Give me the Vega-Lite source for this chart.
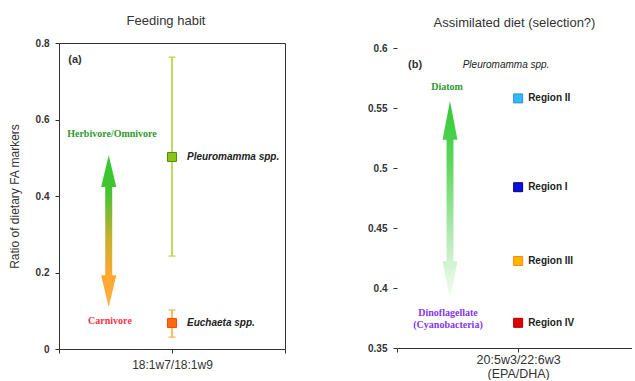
{
  "$schema": "https://vega.github.io/schema/vega-lite/v6.json",
  "background": "white",
  "padding": {"left": 7, "top": 14, "right": 0, "bottom": 0},
  "spacing": 81,
  "config": {
    "font": "Liberation Sans",
    "view": {"stroke": "#333", "strokeWidth": 1},
    "axis": {
      "grid": false,
      "domainColor": "#333",
      "tickColor": "#333",
      "tickSize": 4,
      "labelColor": "#333",
      "labelFont": "Liberation Sans",
      "labelFontWeight": "bold",
      "labelFontSize": 10,
      "labelPadding": 6,
      "titleColor": "#333",
      "titleFont": "Liberation Sans",
      "titleFontWeight": "normal"
    },
    "title": {"font": "Liberation Sans", "fontSize": 13, "fontWeight": "normal", "color": "#333"}
  },
  "resolve": {"scale": {"color": "independent", "fill": "independent", "stroke": "independent"}},
  "hconcat": [
    {
      "width": 226,
      "height": 306,
      "title": {"text": "Feeding habit", "offset": 10, "dx": -6},
      "layer": [
        {
          "data": {"values": [{"x": 0.44, "y": 0.308}]},
          "mark": {
            "type": "point",
            "shape": "M0,-1L0.1,-0.58L0.046,-0.58L0.046,0.58L0.1,0.58L0,1L-0.1,0.58L-0.046,0.58L-0.046,-0.58L-0.1,-0.58Z",
            "size": 23104,
            "filled": true,
            "opacity": 1,
            "strokeWidth": 0,
            "fill": {
              "gradient": "linear", "x1": 0, "y1": 0, "x2": 0, "y2": 1,
              "stops": [
                {"offset": 0, "color": "#2ecc2e"},
                {"offset": 0.25, "color": "#48c232"},
                {"offset": 0.55, "color": "#c8b030"},
                {"offset": 0.8, "color": "#ffa830"},
                {"offset": 1, "color": "#ffb040"}
              ]
            }
          },
          "encoding": {
            "x": {"field": "x", "type": "quantitative", "scale": {"domain": [0, 2], "nice": false},
              "axis": {"title": null, "values": [0, 1, 2], "labelExpr": "datum.value == 1 ? '18:1w7/18:1w9' : ''", "labelFontWeight": "normal", "labelFontSize": 12, "labelPadding": 6}},
            "y": {"field": "y", "type": "quantitative", "scale": {"domain": [0, 0.8], "nice": false},
              "axis": {"title": "Ratio of dietary FA markers", "titleFontSize": 12, "titlePadding": 14, "values": [0, 0.2, 0.4, 0.6, 0.8], "format": "~g"}}
          }
        },
        {
          "data": {"values": [
            {"species": "Pleuromamma spp.", "x": 1, "y": 0.502, "lo": 0.243, "hi": 0.763},
            {"species": "Euchaeta spp.", "x": 1, "y": 0.068, "lo": 0.031, "hi": 0.102}
          ]},
          "layer": [
            {
              "mark": {"type": "rule", "strokeWidth": 1.5},
              "encoding": {
                "x": {"field": "x", "type": "quantitative", "axis": {"title": null}},
                "y": {"field": "lo", "type": "quantitative", "axis": {"title": "Ratio of dietary FA markers"}},
                "y2": {"field": "hi"},
                "color": {"field": "species", "type": "nominal", "legend": null,
                  "scale": {"domain": ["Pleuromamma spp.", "Euchaeta spp."], "range": ["#a8d02c", "#ffa830"]}}
              }
            },
            {
              "mark": {"type": "tick", "orient": "horizontal", "size": 7, "thickness": 1.5},
              "encoding": {
                "x": {"field": "x", "type": "quantitative", "axis": {"title": null}},
                "y": {"field": "lo", "type": "quantitative", "axis": {"title": "Ratio of dietary FA markers"}},
                "color": {"field": "species", "type": "nominal", "legend": null}
              }
            },
            {
              "mark": {"type": "tick", "orient": "horizontal", "size": 7, "thickness": 1.5},
              "encoding": {
                "x": {"field": "x", "type": "quantitative", "axis": {"title": null}},
                "y": {"field": "hi", "type": "quantitative", "axis": {"title": "Ratio of dietary FA markers"}},
                "color": {"field": "species", "type": "nominal", "legend": null}
              }
            },
            {
              "mark": {"type": "point", "shape": "square", "size": 81, "filled": true, "opacity": 1, "strokeWidth": 1},
              "encoding": {
                "x": {"field": "x", "type": "quantitative", "axis": {"title": null}},
                "y": {"field": "y", "type": "quantitative", "axis": {"title": "Ratio of dietary FA markers"}},
                "fill": {"field": "species", "type": "nominal", "legend": null,
                  "scale": {"domain": ["Pleuromamma spp.", "Euchaeta spp."], "range": ["#8cc21a", "#ff6a10"]}},
                "stroke": {"field": "species", "type": "nominal", "legend": null,
                  "scale": {"domain": ["Pleuromamma spp.", "Euchaeta spp."], "range": ["#4f8f00", "#ff4a00"]}}
              }
            },
            {
              "mark": {"type": "text", "align": "left", "baseline": "middle", "dx": 15, "fontSize": 10, "fontStyle": "italic", "fontWeight": "bold", "color": "#222"},
              "encoding": {
                "x": {"field": "x", "type": "quantitative", "axis": {"title": null}},
                "y": {"field": "y", "type": "quantitative", "axis": {"title": "Ratio of dietary FA markers"}},
                "text": {"field": "species"}
              }
            }
          ]
        },
        {
          "data": {"values": [{"label": "Herbivore/Omnivore", "x": 0.469, "y": 0.562}]},
          "mark": {"type": "text", "font": "Liberation Serif", "fontWeight": "bold", "fontSize": 10, "color": "#2f9a2f", "baseline": "middle"},
          "encoding": {
            "x": {"field": "x", "type": "quantitative", "axis": {"title": null}},
            "y": {"field": "y", "type": "quantitative", "axis": {"title": "Ratio of dietary FA markers"}},
            "text": {"field": "label"}
          }
        },
        {
          "data": {"values": [{"label": "Carnivore", "x": 0.451, "y": 0.073}]},
          "mark": {"type": "text", "font": "Liberation Serif", "fontWeight": "bold", "fontSize": 10, "color": "#ff3344", "baseline": "middle"},
          "encoding": {
            "x": {"field": "x", "type": "quantitative", "axis": {"title": null}},
            "y": {"field": "y", "type": "quantitative", "axis": {"title": "Ratio of dietary FA markers"}},
            "text": {"field": "label"}
          }
        },
        {
          "data": {"values": [{"label": "(a)", "x": 0.142, "y": 0.756}]},
          "mark": {"type": "text", "fontWeight": "bold", "fontSize": 11, "color": "#333", "baseline": "middle"},
          "encoding": {
            "x": {"field": "x", "type": "quantitative", "axis": {"title": null}},
            "y": {"field": "y", "type": "quantitative", "axis": {"title": "Ratio of dietary FA markers"}},
            "text": {"field": "label"}
          }
        }
      ]
    },
    {
      "width": 235,
      "height": 305,
      "view": {"stroke": null},
      "title": {"text": "Assimilated diet (selection?)", "offset": 13},
      "layer": [
        {
          "data": {"values": [{"x": 0.4375, "y": 0.4729}]},
          "mark": {
            "type": "point",
            "shape": "M0,-1L0.075,-0.61L0.035,-0.61L0.035,0.61L0.075,0.61L0,1L-0.075,0.61L-0.035,0.61L-0.035,-0.61L-0.075,-0.61Z",
            "size": 39601,
            "filled": true,
            "opacity": 1,
            "strokeWidth": 0,
            "fill": {
              "gradient": "linear", "x1": 0, "y1": 0, "x2": 0, "y2": 1,
              "stops": [
                {"offset": 0, "color": "#33c833"},
                {"offset": 0.3, "color": "#5cd65c"},
                {"offset": 0.7, "color": "#b8ecb8"},
                {"offset": 1, "color": "#f6fff6"}
              ]
            }
          },
          "encoding": {
            "x": {"field": "x", "type": "quantitative", "scale": {"domain": [0, 1.94], "nice": false},
              "axis": {"title": null, "values": [0, 1], "labelExpr": "datum.value == 1 ? ['20:5w3/22:6w3', '(EPA/DHA)'] : ''", "labelFontWeight": "normal", "labelFontSize": 12.5, "labelLineHeight": 14, "labelPadding": 1}},
            "y": {"field": "y", "type": "quantitative", "scale": {"domain": [0.35, 0.60417], "nice": false, "zero": false},
              "axis": {"title": null, "domain": false, "values": [0.35, 0.4, 0.45, 0.5, 0.55, 0.6], "format": "~g"}}
          }
        },
        {
          "mark": {"type": "rule", "color": "#333", "strokeWidth": 1},
          "encoding": {"y": {"datum": 0.6}}
        },
        {
          "mark": {"type": "rule", "color": "#333", "strokeWidth": 1},
          "encoding": {"x": {"datum": 0}, "y": {"datum": 0.35}, "y2": {"datum": 0.6}}
        },
        {
          "data": {"values": [
            {"region": "Region II", "x": 1, "y": 0.558},
            {"region": "Region I", "x": 1, "y": 0.484},
            {"region": "Region III", "x": 1, "y": 0.4225},
            {"region": "Region IV", "x": 1, "y": 0.371}
          ]},
          "layer": [
            {
              "mark": {"type": "point", "shape": "square", "size": 81, "filled": true, "opacity": 1, "strokeWidth": 1},
              "encoding": {
                "x": {"field": "x", "type": "quantitative", "axis": {"title": null}},
                "y": {"field": "y", "type": "quantitative", "axis": {"title": null}},
                "fill": {"field": "region", "type": "nominal", "legend": null,
                  "scale": {"domain": ["Region II", "Region I", "Region III", "Region IV"], "range": ["#33b8f8", "#0a10d8", "#ffb400", "#e00000"]}},
                "stroke": {"field": "region", "type": "nominal", "legend": null,
                  "scale": {"domain": ["Region II", "Region I", "Region III", "Region IV"], "range": ["#2a90d8", "#00008a", "#ff8a00", "#a80000"]}}
              }
            },
            {
              "mark": {"type": "text", "align": "left", "baseline": "middle", "dx": 10, "fontSize": 10, "fontWeight": "bold", "color": "#222"},
              "encoding": {
                "x": {"field": "x", "type": "quantitative", "axis": {"title": null}},
                "y": {"field": "y", "type": "quantitative", "axis": {"title": null}},
                "text": {"field": "region"}
              }
            }
          ]
        },
        {
          "data": {"values": [{"label": "Diatom", "x": 0.413, "y": 0.5675}]},
          "mark": {"type": "text", "font": "Liberation Serif", "fontWeight": "bold", "fontSize": 10, "color": "#2f9a2f", "baseline": "middle"},
          "encoding": {
            "x": {"field": "x", "type": "quantitative", "axis": {"title": null}},
            "y": {"field": "y", "type": "quantitative", "axis": {"title": null}},
            "text": {"field": "label"}
          }
        },
        {
          "data": {"values": [
            {"label": "Dinoflagellate", "x": 0.421, "y": 0.3792},
            {"label": "(Cyanobacteria)", "x": 0.421, "y": 0.3692}
          ]},
          "mark": {"type": "text", "font": "Liberation Serif", "fontWeight": "bold", "fontSize": 10, "color": "#8236ee", "baseline": "middle"},
          "encoding": {
            "x": {"field": "x", "type": "quantitative", "axis": {"title": null}},
            "y": {"field": "y", "type": "quantitative", "axis": {"title": null}},
            "text": {"field": "label"}
          }
        },
        {
          "data": {"values": [{"label": "(b)", "x": 0.149, "y": 0.5858}]},
          "mark": {"type": "text", "fontWeight": "bold", "fontSize": 11, "color": "#333", "baseline": "middle"},
          "encoding": {
            "x": {"field": "x", "type": "quantitative", "axis": {"title": null}},
            "y": {"field": "y", "type": "quantitative", "axis": {"title": null}},
            "text": {"field": "label"}
          }
        },
        {
          "data": {"values": [{"label": "Pleuromamma spp.", "x": 0.9, "y": 0.5858}]},
          "mark": {"type": "text", "fontStyle": "italic", "fontSize": 10, "color": "#222", "baseline": "middle"},
          "encoding": {
            "x": {"field": "x", "type": "quantitative", "axis": {"title": null}},
            "y": {"field": "y", "type": "quantitative", "axis": {"title": null}},
            "text": {"field": "label"}
          }
        }
      ]
    }
  ]
}
